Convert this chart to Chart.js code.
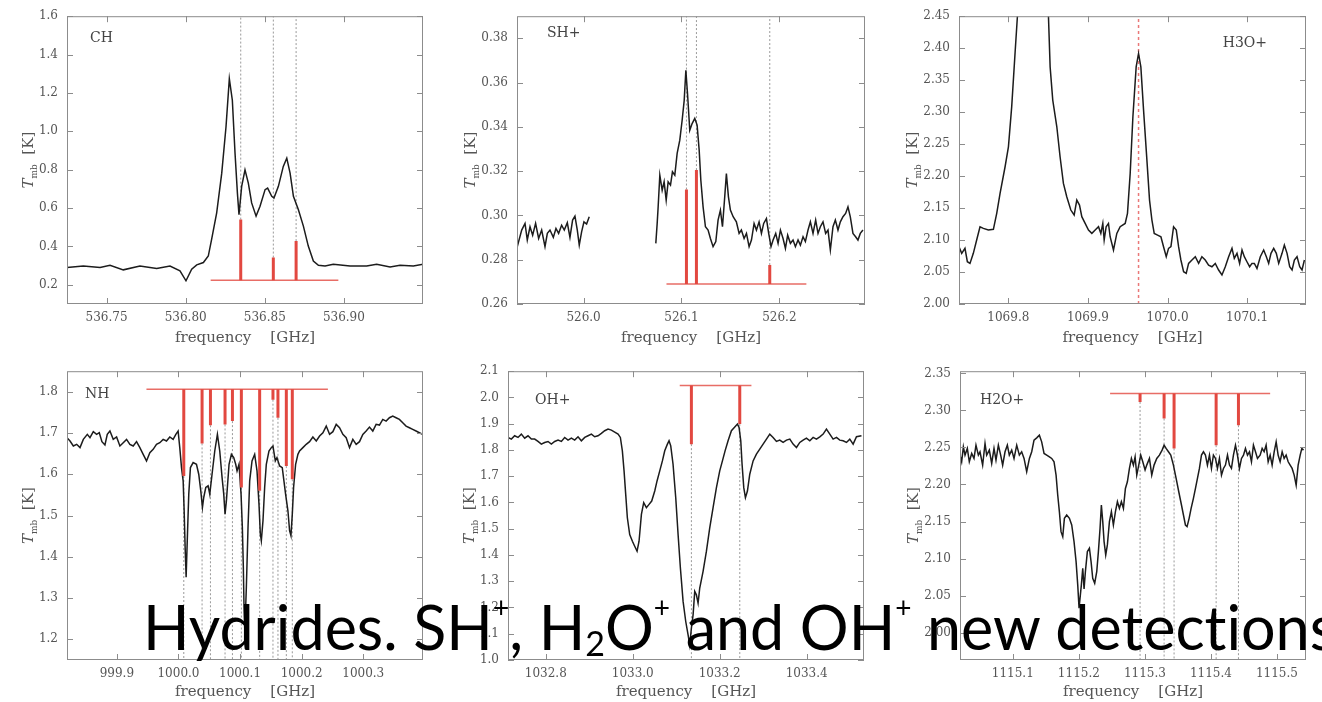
<!DOCTYPE html>
<html>
<head>
<meta charset="utf-8">
<script src="https://cdn.jsdelivr.net/npm/chart.js@4/dist/chart.umd.min.js"></script>
<style>
  body { margin: 0; width: 1322px; height: 702px; overflow: hidden; background: #fff; position: relative; }
  canvas { position: absolute; }
  #caption { position: absolute; left: 143px; top: 596px; font-family: Lato, "Open Sans", sans-serif; font-size: 61px; line-height: 61px; white-space: nowrap; color: #000; font-variant-ligatures: none; }
  #caption sup, #caption sub { position: relative; vertical-align: baseline; line-height: 0; }
  #caption sup { font-size: 28px; top: -32px; }
  #caption sub { font-size: 34px; top: 6px; }
</style>
</head>
<body>
<canvas id="pCH" width="440" height="355" style="left:0;top:0"></canvas>
<canvas id="pSH" width="440" height="355" style="left:440px;top:0"></canvas>
<canvas id="pH3O" width="442" height="355" style="left:880px;top:0"></canvas>
<canvas id="pNH" width="440" height="347" style="left:0;top:355px"></canvas>
<canvas id="pOH" width="440" height="347" style="left:440px;top:355px"></canvas>
<canvas id="pH2O" width="442" height="347" style="left:880px;top:355px"></canvas>
<div id="caption">Hydrides. SH<sup>+</sup>, H<sub>2</sub>O<sup>+</sup> and OH<sup>+</sup> new detections</div>
<script>
// ---- CH ----
const chXRange = [536.725, 536.950];
const chYRange = [0.1, 1.6];
const chXTicks = [536.75, 536.80, 536.85, 536.90];
const chYTicks = [0.2, 0.4, 0.6, 0.8, 1.0, 1.2, 1.4, 1.6];
const chSpectrum = [[536.7250,0.290],[536.7353,0.298],[536.7459,0.290],[536.7522,0.302],[536.7606,0.278],[536.7711,0.298],[536.7817,0.285],[536.7901,0.298],[536.7964,0.273],[536.8002,0.221],[536.8038,0.281],[536.8070,0.304],[536.8112,0.316],[536.8143,0.350],[536.8164,0.437],[536.8196,0.575],[536.8228,0.782],[536.8255,1.024],[536.8276,1.274],[536.8295,1.162],[536.8312,0.886],[536.8327,0.678],[536.8337,0.566],[536.8354,0.713],[536.8375,0.799],[536.8396,0.730],[536.8417,0.627],[536.8445,0.558],[536.8470,0.609],[536.8502,0.696],[536.8518,0.704],[536.8544,0.661],[536.8558,0.652],[536.8586,0.713],[536.8617,0.817],[536.8639,0.860],[536.8660,0.782],[536.8681,0.661],[536.8712,0.592],[536.8744,0.506],[536.8775,0.402],[536.8807,0.324],[536.8839,0.302],[536.8881,0.298],[536.8933,0.307],[536.9039,0.298],[536.9144,0.298],[536.9207,0.307],[536.9292,0.293],[536.9355,0.302],[536.9439,0.298],[536.9502,0.307]];
const chLines = [536.8348, 536.8554, 536.8698];
const chStickTips = [0.540, 0.342, 0.428];
const chStickBase = 0.224;
const chBaseSpan = [536.8158, 536.8965];

// ---- SH+ ----
const shXRange = [525.932, 526.2875];
const shYRange = [0.26, 0.39];
const shXTicks = [526.0, 526.1, 526.2];
const shYTicks = [0.26, 0.28, 0.30, 0.32, 0.34, 0.36, 0.38];
const shLeft = [[525.9323,0.2859],[525.9368,0.2934],[525.9402,0.2964],[525.9425,0.2889],[525.9453,0.2949],[525.9480,0.2911],[525.9510,0.2964],[525.9541,0.2896],[525.9572,0.2934],[525.9606,0.2859],[525.9630,0.2919],[525.9657,0.2934],[525.9691,0.2901],[525.9718,0.2941],[525.9745,0.2919],[525.9776,0.2956],[525.9803,0.2934],[525.9834,0.2967],[525.9861,0.2901],[525.9888,0.2979],[525.9912,0.2997],[525.9936,0.2934],[525.9956,0.2866],[525.9980,0.2926],[526.0004,0.2971],[526.0031,0.2961],[526.0058,0.2994]];
const shRight = [[526.0738,0.2874],[526.0752,0.2964],[526.0762,0.3039],[526.0779,0.3182],[526.0803,0.3114],[526.0823,0.3152],[526.0844,0.3069],[526.0864,0.3152],[526.0888,0.3137],[526.0908,0.3197],[526.0932,0.3182],[526.0956,0.3280],[526.0983,0.3340],[526.1007,0.3430],[526.1028,0.3520],[526.1045,0.3656],[526.1062,0.3550],[526.1085,0.3385],[526.1109,0.3415],[526.1136,0.3438],[526.1160,0.3408],[526.1181,0.3295],[526.1198,0.3159],[526.1221,0.3039],[526.1245,0.2949],[526.1272,0.2934],[526.1296,0.2896],[526.1323,0.2859],[526.1351,0.2882],[526.1374,0.2979],[526.1398,0.3024],[526.1419,0.2949],[526.1442,0.3084],[526.1459,0.3189],[526.1480,0.3084],[526.1500,0.3024],[526.1528,0.2994],[526.1561,0.2971],[526.1589,0.2919],[526.1612,0.2934],[526.1640,0.2896],[526.1664,0.2919],[526.1691,0.2859],[526.1715,0.2889],[526.1742,0.2964],[526.1766,0.2934],[526.1793,0.2971],[526.1817,0.2919],[526.1840,0.2964],[526.1868,0.2986],[526.1891,0.2919],[526.1915,0.2859],[526.1936,0.2889],[526.1963,0.2919],[526.1987,0.2874],[526.2011,0.2934],[526.2038,0.2896],[526.2062,0.2851],[526.2085,0.2911],[526.2113,0.2874],[526.2140,0.2889],[526.2164,0.2859],[526.2191,0.2889],[526.2215,0.2866],[526.2242,0.2904],[526.2266,0.2882],[526.2293,0.2934],[526.2317,0.2971],[526.2344,0.2919],[526.2371,0.2979],[526.2395,0.2919],[526.2419,0.2949],[526.2446,0.2971],[526.2473,0.2919],[526.2497,0.2934],[526.2521,0.2844],[526.2548,0.2949],[526.2572,0.2979],[526.2599,0.2934],[526.2623,0.2971],[526.2650,0.2994],[526.2677,0.3009],[526.2701,0.3039],[526.2725,0.2994],[526.2752,0.2919],[526.2779,0.2904],[526.2803,0.2889],[526.2827,0.2919],[526.2854,0.2934]];
const shLines = [526.1051, 526.1153, 526.1902];
const shStickTips = [0.3117, 0.3205, 0.2776];
const shStickBase = 0.269;
const shBaseSpan = [526.0847, 526.2276];

// ---- H3O+ ----
const h3oXRange = [1069.738, 1070.174];
const h3oYRange = [2.00, 2.45];
const h3oXTicks = [1069.8, 1069.9, 1070.0, 1070.1];
const h3oYTicks = [2.00, 2.05, 2.10, 2.15, 2.20, 2.25, 2.30, 2.35, 2.40, 2.45];
const h3oSpectrum = [[1069.7380,2.0896],[1069.7414,2.0792],[1069.7455,2.0870],[1069.7485,2.0661],[1069.7518,2.0635],[1069.7560,2.0792],[1069.7602,2.1000],[1069.7644,2.1208],[1069.7686,2.1182],[1069.7749,2.1156],[1069.7812,2.1167],[1069.7854,2.1417],[1069.7896,2.1729],[1069.7959,2.2146],[1069.8001,2.2458],[1069.8042,2.3083],[1069.8084,2.3917],[1069.8114,2.4500],[1069.8147,2.55],[1069.8210,2.80],[1069.8294,3.30],[1069.8357,3.40],[1069.8420,3.10],[1069.8470,2.70],[1069.8504,2.45],[1069.8525,2.3708],[1069.8558,2.3188],[1069.8609,2.2771],[1069.8650,2.2302],[1069.8692,2.1885],[1069.8734,2.1677],[1069.8785,2.1469],[1069.8827,2.1391],[1069.8860,2.1625],[1069.8894,2.1547],[1069.8923,2.1365],[1069.8965,2.1260],[1069.9007,2.1156],[1069.9049,2.1104],[1069.9091,2.1156],[1069.9133,2.1208],[1069.9162,2.1104],[1069.9187,2.1260],[1069.9204,2.1000],[1069.9229,2.1208],[1069.9258,2.1260],[1069.9279,2.1052],[1069.9321,2.0844],[1069.9363,2.1104],[1069.9405,2.1208],[1069.9468,2.1260],[1069.9497,2.1417],[1069.9531,2.2042],[1069.9565,2.2927],[1069.9606,2.3708],[1069.9636,2.3917],[1069.9665,2.3708],[1069.9699,2.3031],[1069.9741,2.2250],[1069.9774,2.1625],[1069.9804,2.1313],[1069.9833,2.1104],[1069.9875,2.1078],[1069.9917,2.1052],[1069.9950,2.0896],[1069.9984,2.0740],[1070.0013,2.0870],[1070.0043,2.0896],[1070.0076,2.1208],[1070.0110,2.1156],[1070.0139,2.0896],[1070.0168,2.0688],[1070.0202,2.0505],[1070.0235,2.0479],[1070.0265,2.0635],[1070.0307,2.0688],[1070.0349,2.0740],[1070.0391,2.0635],[1070.0432,2.0740],[1070.0474,2.0688],[1070.0516,2.0609],[1070.0558,2.0583],[1070.0600,2.0635],[1070.0642,2.0531],[1070.0684,2.0453],[1070.0726,2.0583],[1070.0768,2.0740],[1070.0810,2.0870],[1070.0839,2.0714],[1070.0873,2.0792],[1070.0906,2.0635],[1070.0936,2.0844],[1070.0965,2.0740],[1070.0998,2.0661],[1070.1032,2.0583],[1070.1061,2.0635],[1070.1091,2.0635],[1070.1124,2.0557],[1070.1166,2.0740],[1070.1208,2.0844],[1070.1242,2.0740],[1070.1271,2.0635],[1070.1300,2.0792],[1070.1334,2.0870],[1070.1367,2.0792],[1070.1397,2.0635],[1070.1439,2.0792],[1070.1468,2.0922],[1070.1502,2.0792],[1070.1535,2.0583],[1070.1565,2.0531],[1070.1594,2.0688],[1070.1627,2.0740],[1070.1661,2.0583],[1070.1690,2.0531],[1070.1720,2.0688]];
const h3oLine = 1069.9636;

// ---- NH ----
const nhXRange = [999.819, 1000.397];
const nhYRange = [1.15, 1.85];
const nhXTicks = [999.9, 1000.0, 1000.1, 1000.2, 1000.3];
const nhYTicks = [1.2, 1.3, 1.4, 1.5, 1.6, 1.7, 1.8];
const nhSpectrum = [[999.8190,1.6889],[999.8239,1.6808],[999.8293,1.6687],[999.8347,1.6728],[999.8401,1.6647],[999.8455,1.6848],[999.8520,1.6969],[999.8563,1.6889],[999.8617,1.7034],[999.8671,1.6969],[999.8714,1.7009],[999.8757,1.6792],[999.8806,1.6711],[999.8844,1.6969],[999.8887,1.7050],[999.8941,1.6848],[999.8995,1.6905],[999.9049,1.6687],[999.9103,1.6768],[999.9157,1.6848],[999.9211,1.6728],[999.9265,1.6687],[999.9319,1.6792],[999.9373,1.6647],[999.9427,1.6486],[999.9481,1.6325],[999.9535,1.6526],[999.9589,1.6607],[999.9643,1.6728],[999.9697,1.6768],[999.9751,1.6848],[999.9805,1.6808],[999.9859,1.6905],[999.9913,1.6848],[999.9957,1.6969],[999.9994,1.7050],[1000.0021,1.6647],[1000.0049,1.6164],[1000.0076,1.5842],[1000.0092,1.5117],[1000.0108,1.4231],[1000.0124,1.3506],[1000.0146,1.4553],[1000.0167,1.5520],[1000.0194,1.6164],[1000.0238,1.6285],[1000.0292,1.6244],[1000.0329,1.6003],[1000.0362,1.5600],[1000.0389,1.5197],[1000.0410,1.5439],[1000.0443,1.5681],[1000.0481,1.5721],[1000.0508,1.5520],[1000.0545,1.6003],[1000.0589,1.6566],[1000.0632,1.6969],[1000.0670,1.6566],[1000.0708,1.5922],[1000.0735,1.5520],[1000.0756,1.5036],[1000.0778,1.5358],[1000.0821,1.6244],[1000.0859,1.6486],[1000.0897,1.6405],[1000.0929,1.6244],[1000.0951,1.6083],[1000.0983,1.6244],[1000.1016,1.5520],[1000.1037,1.4714],[1000.1053,1.3748],[1000.1064,1.2781],[1000.1075,1.2300],[1000.1080,1.2200],[1000.1102,1.3265],[1000.1129,1.4714],[1000.1156,1.5842],[1000.1194,1.6325],[1000.1237,1.6486],[1000.1275,1.6083],[1000.1307,1.5278],[1000.1329,1.4553],[1000.1345,1.4392],[1000.1372,1.4875],[1000.1399,1.5681],[1000.1426,1.6244],[1000.1469,1.6566],[1000.1507,1.6647],[1000.1534,1.6687],[1000.1572,1.6325],[1000.1599,1.6405],[1000.1642,1.6204],[1000.1685,1.6164],[1000.1712,1.5842],[1000.1739,1.5520],[1000.1777,1.5117],[1000.1804,1.4634],[1000.1826,1.4513],[1000.1848,1.5036],[1000.1869,1.5681],[1000.1902,1.6244],[1000.1939,1.6486],[1000.1966,1.6566],[1000.2020,1.6647],[1000.2074,1.6728],[1000.2128,1.6792],[1000.2182,1.6905],[1000.2237,1.6808],[1000.2291,1.6929],[1000.2345,1.7009],[1000.2399,1.7170],[1000.2453,1.6969],[1000.2507,1.7034],[1000.2561,1.7211],[1000.2615,1.7130],[1000.2669,1.6969],[1000.2723,1.6889],[1000.2777,1.6647],[1000.2831,1.6848],[1000.2885,1.6728],[1000.2939,1.6792],[1000.2993,1.6969],[1000.3047,1.7050],[1000.3101,1.7146],[1000.3155,1.7050],[1000.3209,1.7211],[1000.3263,1.7195],[1000.3317,1.7332],[1000.3371,1.7291],[1000.3425,1.7372],[1000.3479,1.7412],[1000.3533,1.7372],[1000.3587,1.7332],[1000.3641,1.7251],[1000.3695,1.7170],[1000.3749,1.7130],[1000.3803,1.7090],[1000.3857,1.7050],[1000.3911,1.7009],[1000.3965,1.6969]];
const nhLines = [1000.0086, 1000.0383, 1000.0519, 1000.0756, 1000.0876, 1000.1021, 1000.1318, 1000.1534, 1000.1615, 1000.1751, 1000.1848];
const nhStickTips = [1.596, 1.675, 1.719, 1.721, 1.729, 1.568, 1.560, 1.781, 1.737, 1.620, 1.588];
const nhStickBase = 1.806;
const nhBaseSpan = [999.948, 1000.2426];

// ---- OH+ ----
const ohXRange = [1032.713, 1033.532];
const ohYRange = [1.0, 2.1];
const ohXTicks = [1032.8, 1033.0, 1033.2, 1033.4];
const ohYTicks = [1.0, 1.1, 1.2, 1.3, 1.4, 1.5, 1.6, 1.7, 1.8, 1.9, 2.0, 2.1];
const ohSpectrum = [[1032.7130,1.8477],[1032.7207,1.8413],[1032.7283,1.8540],[1032.7360,1.8477],[1032.7437,1.8604],[1032.7514,1.8451],[1032.7590,1.8540],[1032.7667,1.8413],[1032.7744,1.8413],[1032.7820,1.8324],[1032.7897,1.8222],[1032.7974,1.8286],[1032.8051,1.8324],[1032.8127,1.8222],[1032.8204,1.8324],[1032.8281,1.8375],[1032.8358,1.8324],[1032.8434,1.8477],[1032.8511,1.8375],[1032.8588,1.8451],[1032.8664,1.8375],[1032.8741,1.8502],[1032.8818,1.8349],[1032.8895,1.8477],[1032.8971,1.8540],[1032.9048,1.8604],[1032.9125,1.8502],[1032.9201,1.8540],[1032.9278,1.8630],[1032.9355,1.8732],[1032.9432,1.8796],[1032.9508,1.8757],[1032.9585,1.8681],[1032.9662,1.8604],[1032.9715,1.8477],[1032.9761,1.7967],[1032.9800,1.7202],[1032.9838,1.6310],[1032.9876,1.5417],[1032.9930,1.4780],[1032.9992,1.4525],[1033.0045,1.4334],[1033.0099,1.4143],[1033.0145,1.4525],[1033.0199,1.5545],[1033.0252,1.5991],[1033.0314,1.5800],[1033.0375,1.5927],[1033.0436,1.6055],[1033.0506,1.6437],[1033.0559,1.6820],[1033.0621,1.7202],[1033.0682,1.7584],[1033.0736,1.7967],[1033.0797,1.8222],[1033.0835,1.8349],[1033.0874,1.8158],[1033.0927,1.7457],[1033.0989,1.6182],[1033.1043,1.4780],[1033.1096,1.3505],[1033.1158,1.2231],[1033.1219,1.1466],[1033.1273,1.0956],[1033.1311,1.0574],[1033.1349,1.1211],[1033.1388,1.1721],[1033.1426,1.2613],[1033.1464,1.2486],[1033.1503,1.2167],[1033.1541,1.2741],[1033.1618,1.3378],[1033.1695,1.4143],[1033.1771,1.5035],[1033.1848,1.5800],[1033.1925,1.6565],[1033.2001,1.7202],[1033.2063,1.7584],[1033.2124,1.7967],[1033.2193,1.8349],[1033.2270,1.8732],[1033.2347,1.8878],[1033.2408,1.8987],[1033.2446,1.8859],[1033.2485,1.8349],[1033.2515,1.7457],[1033.2554,1.6565],[1033.2592,1.6182],[1033.2638,1.6437],[1033.2692,1.7075],[1033.2769,1.7584],[1033.2845,1.7839],[1033.2922,1.8031],[1033.2999,1.8222],[1033.3076,1.8413],[1033.3152,1.8604],[1033.3229,1.8477],[1033.3306,1.8324],[1033.3382,1.8375],[1033.3459,1.8286],[1033.3536,1.8375],[1033.3613,1.8413],[1033.3689,1.8222],[1033.3766,1.8094],[1033.3843,1.8286],[1033.3919,1.8375],[1033.3996,1.8451],[1033.4073,1.8349],[1033.4150,1.8477],[1033.4226,1.8413],[1033.4303,1.8502],[1033.4380,1.8604],[1033.4456,1.8796],[1033.4533,1.8604],[1033.4610,1.8413],[1033.4687,1.8477],[1033.4763,1.8375],[1033.4840,1.8349],[1033.4917,1.8286],[1033.4993,1.8413],[1033.5070,1.8222],[1033.5147,1.8502],[1033.5262,1.8540]];
const ohLines = [1033.1349, 1033.2462];
const ohStickTips = [1.8222, 1.8987];
const ohStickBase = 2.0452;
const ohBaseSpan = [1033.1081, 1033.2730];

// ---- H2O+ ----
const h2oXRange = [1115.020, 1115.544];
const h2oYRange = [1.963, 2.353];
const h2oXTicks = [1115.1, 1115.2, 1115.3, 1115.4, 1115.5];
const h2oYTicks = [2.00, 2.05, 2.10, 2.15, 2.20, 2.25, 2.30, 2.35];
const h2oSpectrum = [[1115.0200,2.2397],[1115.0225,2.2307],[1115.0251,2.2509],[1115.0276,2.2397],[1115.0311,2.2487],[1115.0341,2.2307],[1115.0377,2.2419],[1115.0412,2.2352],[1115.0442,2.2531],[1115.0478,2.2397],[1115.0503,2.2442],[1115.0543,2.2262],[1115.0579,2.2554],[1115.0604,2.2397],[1115.0644,2.2464],[1115.0680,2.2284],[1115.0715,2.2487],[1115.0745,2.2329],[1115.0781,2.2531],[1115.0816,2.2397],[1115.0846,2.2262],[1115.0882,2.2442],[1115.0917,2.2531],[1115.0947,2.2397],[1115.0983,2.2464],[1115.1018,2.2352],[1115.1059,2.2531],[1115.1099,2.2397],[1115.1134,2.2442],[1115.1170,2.2352],[1115.1210,2.2172],[1115.1251,2.2352],[1115.1286,2.2442],[1115.1321,2.2599],[1115.1362,2.2630],[1115.1402,2.2666],[1115.1437,2.2576],[1115.1473,2.2419],[1115.1513,2.2397],[1115.1554,2.2374],[1115.1589,2.2352],[1115.1624,2.2307],[1115.1655,2.2127],[1115.1680,2.1858],[1115.1705,2.1633],[1115.1730,2.1363],[1115.1756,2.1296],[1115.1781,2.1543],[1115.1816,2.1588],[1115.1857,2.1543],[1115.1892,2.1453],[1115.1927,2.1229],[1115.1958,2.0959],[1115.1983,2.0645],[1115.2003,2.0330],[1115.2018,2.0465],[1115.2038,2.0645],[1115.2059,2.0869],[1115.2079,2.0590],[1115.2099,2.0824],[1115.2129,2.1094],[1115.2160,2.1139],[1115.2185,2.0959],[1115.2210,2.0734],[1115.2240,2.0667],[1115.2271,2.0824],[1115.2296,2.1094],[1115.2321,2.1408],[1115.2341,2.1723],[1115.2362,2.1498],[1115.2382,2.1229],[1115.2407,2.1049],[1115.2432,2.1184],[1115.2463,2.1498],[1115.2493,2.1633],[1115.2523,2.1453],[1115.2554,2.1633],[1115.2584,2.1768],[1115.2614,2.1678],[1115.2644,2.1768],[1115.2675,2.1678],[1115.2705,2.1947],[1115.2735,2.2037],[1115.2766,2.2217],[1115.2796,2.2352],[1115.2826,2.2262],[1115.2852,2.2374],[1115.2877,2.2127],[1115.2907,2.2262],[1115.2937,2.2397],[1115.2968,2.2307],[1115.3003,2.2195],[1115.3028,2.2262],[1115.3069,2.2352],[1115.3104,2.2127],[1115.3139,2.2262],[1115.3180,2.2352],[1115.3220,2.2397],[1115.3261,2.2464],[1115.3291,2.2531],[1115.3321,2.2487],[1115.3357,2.2442],[1115.3392,2.2397],[1115.3432,2.2262],[1115.3473,2.2082],[1115.3513,2.1902],[1115.3554,2.1723],[1115.3584,2.1588],[1115.3614,2.1453],[1115.3639,2.1431],[1115.3670,2.1543],[1115.3700,2.1678],[1115.3735,2.1813],[1115.3766,2.1947],[1115.3796,2.2082],[1115.3826,2.2217],[1115.3857,2.2397],[1115.3887,2.2442],[1115.3917,2.2397],[1115.3947,2.2262],[1115.3978,2.2397],[1115.4008,2.2217],[1115.4038,2.2397],[1115.4069,2.2352],[1115.4099,2.2217],[1115.4129,2.2352],[1115.4160,2.2127],[1115.4190,2.2217],[1115.4220,2.2262],[1115.4251,2.2397],[1115.4281,2.2262],[1115.4311,2.2217],[1115.4341,2.2397],[1115.4372,2.2531],[1115.4402,2.2397],[1115.4432,2.2217],[1115.4463,2.2352],[1115.4493,2.2397],[1115.4523,2.2487],[1115.4554,2.2397],[1115.4584,2.2442],[1115.4614,2.2307],[1115.4644,2.2531],[1115.4675,2.2442],[1115.4705,2.2352],[1115.4745,2.2397],[1115.4776,2.2487],[1115.4806,2.2442],[1115.4836,2.2531],[1115.4867,2.2307],[1115.4897,2.2397],[1115.4927,2.2262],[1115.4958,2.2442],[1115.4988,2.2576],[1115.5018,2.2397],[1115.5048,2.2307],[1115.5079,2.2442],[1115.5109,2.2352],[1115.5139,2.2397],[1115.5170,2.2307],[1115.5200,2.2262],[1115.5230,2.2217],[1115.5261,2.2127],[1115.5291,2.1992],[1115.5321,2.2262],[1115.5352,2.2397],[1115.5377,2.2487],[1115.5402,2.2464]];
const h2oLines = [1115.2927, 1115.3291, 1115.3442, 1115.4079, 1115.4417];
const h2oStickTips = [2.3115, 2.2891, 2.2487, 2.2531, 2.2801];
const h2oStickBase = 2.3228;
const h2oBaseSpan = [1115.2473, 1115.4897];

// ---- drawing ----
const SERIF = '"DejaVu Serif", serif';
const TEXT = '#555';
const RED = 'rgb(226,72,64)';
Chart.defaults.font.family = SERIF;

const pts = arr => arr.map(([x, y]) => ({ x, y }));

function lineSet(data, color, width, dash) {
  return { data, borderColor: color, borderWidth: width, borderDash: dash || [], pointRadius: 0, tension: 0, fill: false };
}

// sticks + their base bar + grey dotted guides running to the plot edge
function stickSets(lines, tips, base, span, yRange) {
  const out = [];
  lines.forEach((f, i) => out.push(lineSet([{ x: f, y: base }, { x: f, y: tips[i] }], RED, 3)));
  out.push(lineSet([{ x: span[0], y: base }, { x: span[1], y: base }], 'rgba(226,72,64,0.8)', 1.5));
  lines.forEach((f, i) => {
    const edge = tips[i] > base ? yRange[1] : yRange[0];
    out.push(lineSet([{ x: f, y: tips[i] }, { x: f, y: edge }], '#9a9a9a', 1, [2, 2]));
  });
  return out;
}

const frameDecor = {
  id: 'frameDecor',
  afterDatasetsDraw(chart) {
    const { ctx, chartArea: a, scales: { x, y } } = chart;
    const p = chart.options.plugins.frameDecor;
    ctx.save();
    ctx.strokeStyle = '#8c8c8c';
    ctx.lineWidth = 1;
    ctx.strokeRect(a.left + 0.5, a.top + 0.5, a.right - a.left - 1, a.bottom - a.top - 1);
    ctx.beginPath();
    x.ticks.forEach(t => {
      const px = Math.round(x.getPixelForValue(t.value)) + 0.5;
      ctx.moveTo(px, a.bottom); ctx.lineTo(px, a.bottom - 6);
      ctx.moveTo(px, a.top); ctx.lineTo(px, a.top + 6);
    });
    y.ticks.forEach(t => {
      const py = Math.round(y.getPixelForValue(t.value)) + 0.5;
      ctx.moveTo(a.left, py); ctx.lineTo(a.left + 6, py);
      ctx.moveTo(a.right, py); ctx.lineTo(a.right - 6, py);
    });
    ctx.stroke();

    // species label
    ctx.fillStyle = '#444';
    ctx.font = '14px ' + SERIF;
    ctx.textBaseline = 'middle';
    if (p.alignRight) {
      ctx.textAlign = 'right';
      ctx.fillText(p.label, a.right + p.dx, a.top + p.dy);
    } else {
      ctx.textAlign = 'left';
      ctx.fillText(p.label, a.left + p.dx, a.top + p.dy);
    }

    // y title: T_mb [K], rotated
    ctx.font = '12px ' + SERIF;
    const maxW = Math.max(...y.ticks.map(t => ctx.measureText(t.label).width));
    const cx = a.left - 9 - maxW - 11;
    const cy = (a.top + a.bottom) / 2;
    const parts = [
      { t: 'T', f: 'italic 15px ' + SERIF, dy: 0 },
      { t: 'mb', f: '9px ' + SERIF, dy: 4 },
      { t: '\u00a0\u00a0[K]', f: '15px ' + SERIF, dy: 0 }
    ];
    let total = 0;
    parts.forEach(q => { ctx.font = q.f; q.w = ctx.measureText(q.t).width; total += q.w; });
    ctx.translate(cx, cy);
    ctx.rotate(-Math.PI / 2);
    ctx.textAlign = 'left';
    ctx.textBaseline = 'alphabetic';
    ctx.fillStyle = TEXT;
    let xo = -total / 2;
    parts.forEach(q => { ctx.font = q.f; ctx.fillText(q.t, xo, 5 + q.dy); xo += q.w; });
    ctx.restore();
  }
};

function makePanel(id, cfg) {
  const canvas = document.getElementById(id);
  const W = canvas.width, H = canvas.height, A = cfg.area;
  new Chart(canvas, {
    type: 'line',
    data: { datasets: cfg.datasets },
    plugins: [frameDecor],
    options: {
      responsive: false,
      animation: false,
      devicePixelRatio: 1,
      layout: { padding: { top: A.top, right: W - A.right, left: 0, bottom: 0 } },
      plugins: {
        legend: { display: false },
        tooltip: { enabled: false },
        frameDecor: cfg.label
      },
      scales: {
        x: {
          type: 'linear', min: cfg.xRange[0], max: cfg.xRange[1],
          afterBuildTicks: ax => { ax.ticks = cfg.xTicks.map(v => ({ value: v })); },
          afterFit: s => { s.height = H - A.bottom; },
          grid: { display: false, drawTicks: false },
          border: { display: false },
          ticks: { autoSkip: false, maxRotation: 0, padding: 7, color: TEXT, font: { size: 12 },
                   callback: v => v.toFixed(cfg.xDigits) },
          title: { display: true, text: 'frequency\u00a0\u00a0\u00a0\u00a0[GHz]', color: TEXT,
                   font: { size: 15 }, padding: { top: 0, bottom: cfg.titlePad } }
        },
        y: {
          type: 'linear', min: cfg.yRange[0], max: cfg.yRange[1],
          afterBuildTicks: ax => { ax.ticks = cfg.yTicks.map(v => ({ value: v })); },
          afterFit: s => { s.width = A.left; },
          grid: { display: false, drawTicks: false },
          border: { display: false },
          ticks: { autoSkip: false, padding: 9, color: TEXT, font: { size: 12 },
                   callback: v => v.toFixed(cfg.yDigits) }
        }
      }
    }
  });
}

const INK = '#1c1c1c';

makePanel('pCH', {
  area: { left: 67, right: 423, top: 16, bottom: 304 }, titlePad: 8,
  xRange: chXRange, yRange: chYRange, xTicks: chXTicks, yTicks: chYTicks, xDigits: 2, yDigits: 1,
  label: { label: 'CH', dx: 23, dy: 22 },
  datasets: [...stickSets(chLines, chStickTips, chStickBase, chBaseSpan, chYRange).slice(0, 4),
             lineSet(pts(chSpectrum), INK, 1.5),
             ...stickSets(chLines, chStickTips, chStickBase, chBaseSpan, chYRange).slice(4)]
});

makePanel('pSH', {
  area: { left: 77, right: 425, top: 16, bottom: 304 }, titlePad: 8,
  xRange: shXRange, yRange: shYRange, xTicks: shXTicks, yTicks: shYTicks, xDigits: 1, yDigits: 2,
  label: { label: 'SH+', dx: 30, dy: 17 },
  datasets: [...stickSets(shLines, shStickTips, shStickBase, shBaseSpan, shYRange).slice(0, 4),
             lineSet(pts(shLeft), INK, 1.5), lineSet(pts(shRight), INK, 1.5),
             ...stickSets(shLines, shStickTips, shStickBase, shBaseSpan, shYRange).slice(4)]
});

makePanel('pH3O', {
  area: { left: 79, right: 426, top: 16, bottom: 304 }, titlePad: 8,
  xRange: h3oXRange, yRange: h3oYRange, xTicks: h3oXTicks, yTicks: h3oYTicks, xDigits: 1, yDigits: 2,
  label: { label: 'H3O+', dx: -39, dy: 27, alignRight: true },
  datasets: [lineSet(pts(h3oSpectrum), INK, 1.5),
             lineSet([{ x: h3oLine, y: h3oYRange[0] }, { x: h3oLine, y: h3oYRange[1] }], 'rgba(230,96,96,0.85)', 1.5, [3, 3])]
});

makePanel('pNH', {
  area: { left: 67, right: 423, top: 16, bottom: 305 }, titlePad: 1,
  xRange: nhXRange, yRange: nhYRange, xTicks: nhXTicks, yTicks: nhYTicks, xDigits: 1, yDigits: 1,
  label: { label: 'NH', dx: 18, dy: 23 },
  datasets: [...stickSets(nhLines, nhStickTips, nhStickBase, nhBaseSpan, nhYRange).slice(0, 12),
             lineSet(pts(nhSpectrum), INK, 1.5),
             ...stickSets(nhLines, nhStickTips, nhStickBase, nhBaseSpan, nhYRange).slice(12)]
});

makePanel('pOH', {
  area: { left: 68, right: 424, top: 16, bottom: 305 }, titlePad: 1,
  xRange: ohXRange, yRange: ohYRange, xTicks: ohXTicks, yTicks: ohYTicks, xDigits: 1, yDigits: 1,
  label: { label: 'OH+', dx: 27, dy: 29 },
  datasets: [...stickSets(ohLines, ohStickTips, ohStickBase, ohBaseSpan, ohYRange).slice(0, 3),
             lineSet(pts(ohSpectrum), INK, 1.5),
             ...stickSets(ohLines, ohStickTips, ohStickBase, ohBaseSpan, ohYRange).slice(3)]
});

makePanel('pH2O', {
  area: { left: 80, right: 426, top: 16, bottom: 305 }, titlePad: 1,
  xRange: h2oXRange, yRange: h2oYRange, xTicks: h2oXTicks, yTicks: h2oYTicks, xDigits: 1, yDigits: 2,
  label: { label: 'H2O+', dx: 20, dy: 29 },
  datasets: [...stickSets(h2oLines, h2oStickTips, h2oStickBase, h2oBaseSpan, h2oYRange).slice(0, 6),
             lineSet(pts(h2oSpectrum), INK, 1.5),
             ...stickSets(h2oLines, h2oStickTips, h2oStickBase, h2oBaseSpan, h2oYRange).slice(6)]
});
</script>
</body>
</html>
